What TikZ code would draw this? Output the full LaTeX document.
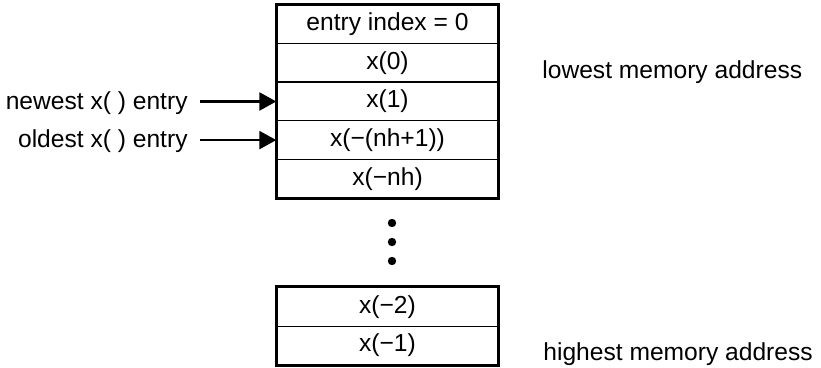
\documentclass[tikz,border=0pt]{standalone}
\usepackage{fontspec}
\setmainfont{Liberation Sans}
\usetikzlibrary{arrows.meta}
\begin{document}
\begin{tikzpicture}[x=0.5pt,y=-0.5pt,
  cell/.style={draw,line width=0.7pt,minimum width=110.5pt,minimum height=19.3pt,inner sep=0pt,font=\fontsize{12.3}{15}\selectfont},
  lbl/.style={inner sep=0pt,font=\fontsize{12.3}{15}\selectfont},
  frame/.style={line width=1.5pt},
  ptr/.style={line width=1.2pt,-{Triangle[length=8.5pt,width=9pt]}},
  dot/.style={fill=black,circle,inner sep=0pt,minimum size=4.2pt}]
\useasboundingbox (0,0) rectangle (821,368);
\node[cell] (r0) at (387.5,24.3) {entry index = 0};
\node[cell] (r1) at (387.5,62.9) {x(0)};
\node[cell] (r2) at (387.5,101.5) {x(1)};
\node[cell] (r3) at (387.5,140.1) {x(−(nh+1))};
\node[cell] (r4) at (387.5,178.7) {x(−nh)};
\draw[frame] (r0.north west) rectangle (r4.south east);
\node[cell] (b0) at (387.5,307) {x(−2)};
\node[cell] (b1) at (387.5,345.6) {x(−1)};
\draw[frame] (b0.north west) rectangle (b1.south east);
\node[dot] (d1) at (392,223) {};
\node[dot] (d2) at (392,242) {};
\node[dot] (d3) at (392,261) {};
\node[lbl,anchor=east] (newest) at (188,103) {newest x( ) entry};
\node[lbl,anchor=east] (oldest) at (188,141) {oldest x( ) entry};
\coordinate (n0) at (200,101.5);
\coordinate (o0) at (200,140.1);
\draw[ptr] (n0) -- (r2.west);
\draw[ptr] (o0) -- (r3.west);
\node[lbl,anchor=west] (low) at (542,72) {lowest memory address};
\node[lbl,anchor=west] (high) at (543,354) {highest memory address};
\end{tikzpicture}
\end{document}
